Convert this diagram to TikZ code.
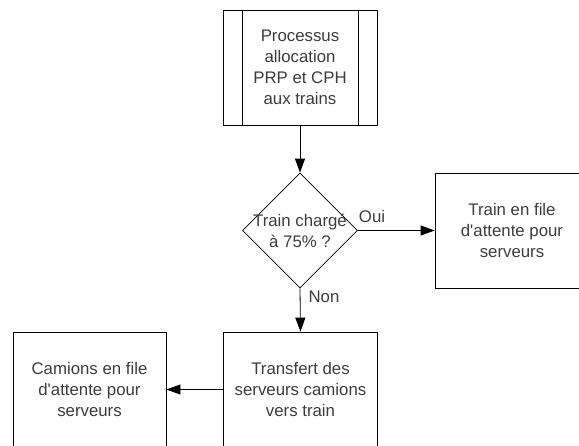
\documentclass[tikz,border=0pt]{standalone}
\usepackage{fontspec}
\setmainfont{Liberation Sans}
\usetikzlibrary{shapes.geometric,arrows.meta}
\definecolor{ink}{HTML}{3C3C3C}
\begin{document}
\begin{tikzpicture}[x=1pt,y=-1pt,
  font=\fontsize{16.8}{21}\selectfont,
  every node/.style={text=ink},
  box/.style={draw=black,line width=0.8pt,minimum width=154pt,minimum height=115pt,
    inner sep=0pt,align=center},
  choice/.style={draw=black,line width=0.8pt,shape=diamond,minimum width=115pt,
    minimum height=115pt,inner sep=0pt},
  flow/.style={draw=black,line width=0.8pt,-{Triangle[length=14pt,width=10pt]}},
  tag/.style={inner sep=0pt}]
\useasboundingbox (0,0) rectangle (579,445);
\clip (0,0) rectangle (579,445);

% predefined process (double-sided box)
\node[box] (proc) at (300,67.5) {Processus\\allocation\\PRP et CPH\\aux trains};
\draw[line width=0.8pt] ([xshift=20pt]proc.north west) -- ([xshift=20pt]proc.south west);
\draw[line width=0.8pt] ([xshift=-19pt]proc.north east) -- ([xshift=-19pt]proc.south east);

% decision
\node[choice] (dec) at (300,230.5) {};
\node[tag,align=center] (dectext) at (300,231) {Train chargé\\à 75\% ?};

% outcomes
\node[box] (queue) at (512,230.5) {Train en file\\d\textquotesingle attente pour\\serveurs};
\node[box] (transfer) at (300.5,389.5) {Transfert des\\serveurs camions\\vers train};
\node[box,minimum width=153pt] (trucks) at (89.5,389.5) {Camions en file\\d\textquotesingle attente pour\\serveurs};

% connectors
\draw[flow] (proc.south) -- (dec.north);
\draw[flow] (dec.east) -- (queue.west);
\draw[flow] (dec.south) -- (transfer.north);
\draw[flow] (transfer.west) -- (trucks.east);

% branch labels
\node[tag] (oui) at (372,216) {Oui};
\node[tag] (non) at (324,297) {Non};
\end{tikzpicture}
\end{document}
